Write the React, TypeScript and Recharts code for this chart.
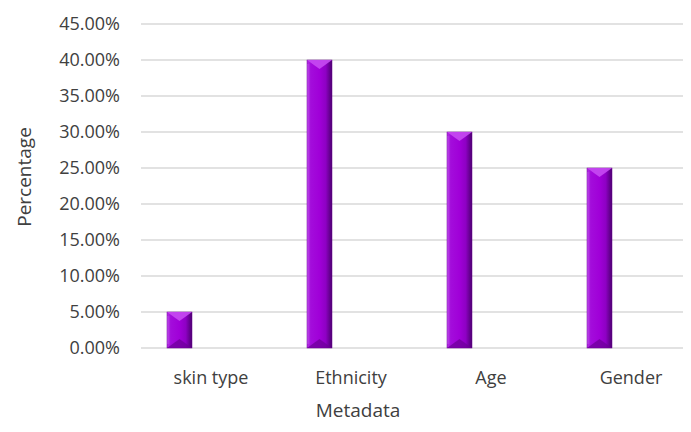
import React from 'react';
import { BarChart, Bar, XAxis, YAxis, CartesianGrid } from 'recharts';

const categories: string[] = ['skin type', 'Ethnicity', 'Age', 'Gender'];
const percentages: number[] = [0.05, 0.4, 0.3, 0.25];
const emptySeries: (number | null)[] = [null, null, null, null];
const yTicks: number[] = [0, 0.05, 0.1, 0.15, 0.2, 0.25, 0.3, 0.35, 0.4, 0.45];

const data = categories.map((c, i) => ({ name: c, value: percentages[i], empty: emptySeries[i] }));

const FONT = '"Open Sans", "Noto Sans", sans-serif';

const BevelBar = (props: any) => {
  const { x, y, width, height } = props;
  if (!height || height <= 0 || !width) return null;
  const b = Math.min(4, width / 5, height / 4);
  const v = Math.min(9, height / 3);
  const cx = x + width / 2;
  return (
    <g>
      <rect x={x} y={y} width={width} height={height} fill="url(#barGrad)" stroke="#6a0090" strokeWidth={0.5} />
      <polygon
        points={`${x},${y} ${x + width},${y} ${cx},${y + v}`}
        fill="#c64af2"
        opacity={0.9}
      />
      <polygon
        points={`${x},${y + height} ${x + width},${y + height} ${cx},${y + height - v}`}
        fill="#6b0096"
        opacity={0.7}
      />
      <rect x={x} y={y + b} width={b * 0.6} height={Math.max(0, height - 2 * b)} fill="#b84ae6" opacity={0.5} />
    </g>
  );
};

export default function App() {
  return (
    <div style={{ margin: -8, width: 691, height: 432, overflow: 'hidden', background: '#fff' }}>
      <BarChart
        width={711}
        height={432}
        data={data}
        margin={{ top: 24, right: 10, left: 0, bottom: 24 }}
        barSize={25}
        barGap={38}
      >
        <defs>
          <linearGradient id="barGrad" x1="0" y1="0" x2="1" y2="0">
            <stop offset="0%" stopColor="#b533e6" />
            <stop offset="15%" stopColor="#a30ddb" />
            <stop offset="50%" stopColor="#a000d8" />
            <stop offset="75%" stopColor="#8e00c4" />
            <stop offset="100%" stopColor="#4c0070" />
          </linearGradient>
        </defs>
        <CartesianGrid vertical={false} stroke="#d9d9d9" strokeWidth={1.5} />
        <XAxis
          dataKey="name"
          height={60}
          axisLine={false}
          tickLine={false}
          tickSize={0}
          tickMargin={23}
          tick={{ fill: '#404040', fontSize: 18, fontFamily: FONT }}
          label={{ value: 'Metadata', position: 'bottom', offset: -4, dx: -63, fill: '#404040', fontSize: 19, fontFamily: FONT }}
        />
        <YAxis
          width={141}
          domain={[0, 0.45]}
          ticks={yTicks}
          interval={0}
          axisLine={false}
          tickLine={false}
          tickSize={0}
          tickMargin={21}
          tickFormatter={(v: number) => (v * 100).toFixed(2) + '%'}
          tick={{ fill: '#404040', fontSize: 18, fontFamily: FONT }}
          label={{
            value: 'Percentage',
            angle: -90,
            position: 'insideLeft',
            offset: 24,
            dy: -9,
            fill: '#404040',
            fontSize: 19,
            fontFamily: FONT,
            style: { textAnchor: 'middle' },
          }}
        />
        <Bar dataKey="value" shape={<BevelBar />} isAnimationActive={false} />
        <Bar dataKey="empty" shape={<BevelBar />} isAnimationActive={false} />
      </BarChart>
    </div>
  );
}
